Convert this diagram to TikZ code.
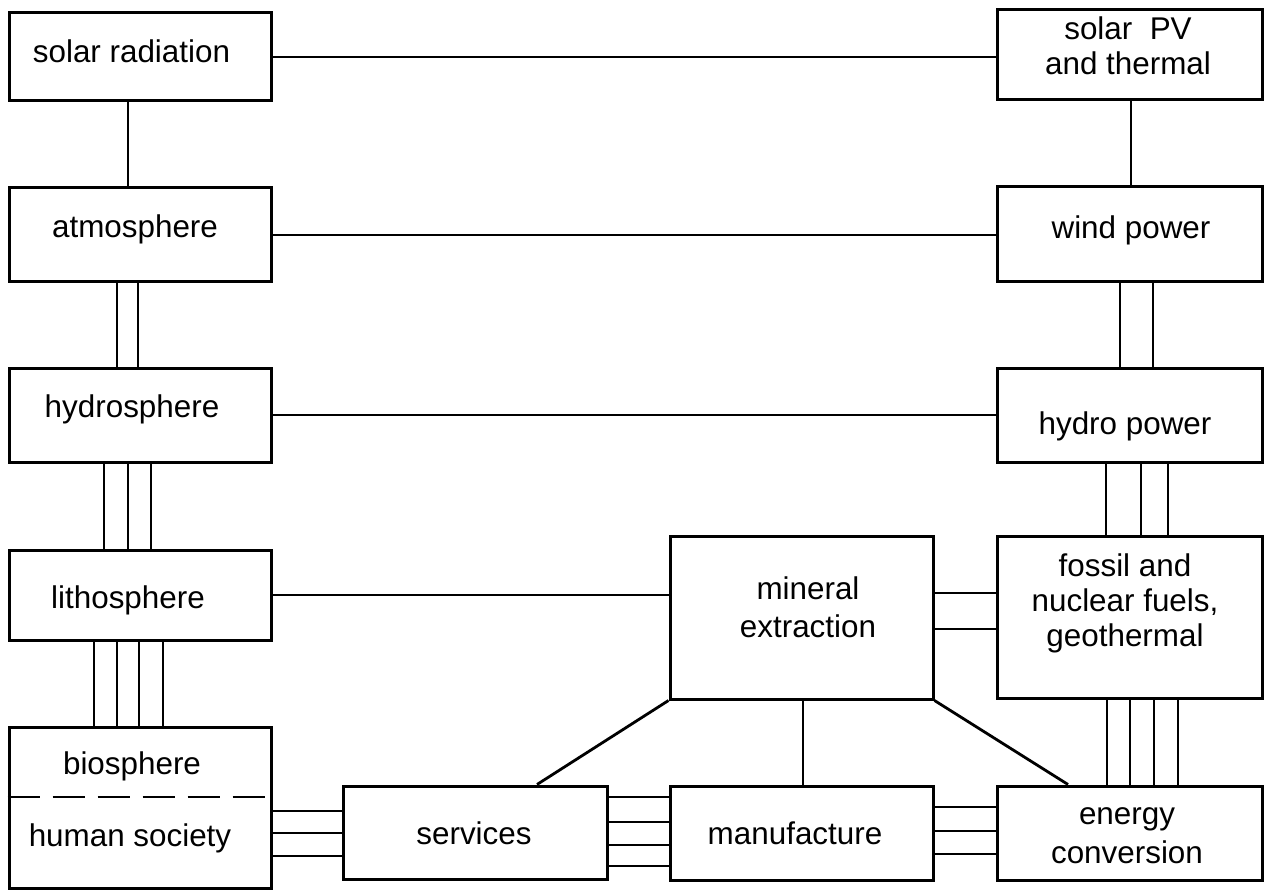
\documentclass[tikz,border=0pt]{standalone}
\usepackage{fontspec}
\setmainfont{Liberation Sans}
\begin{document}
\begin{tikzpicture}[x=1pt,y=-1pt,
  box/.style={draw, line width=3pt, inner sep=0pt, outer sep=1.5pt},
  conn/.style={line width=2.8pt},
  lbl/.style={font=\fontsize{31.4pt}{36pt}\selectfont, inner sep=0pt, align=center, anchor=base}]
\useasboundingbox (0,0) rectangle (1271,890);
% boxes
\node[box, minimum width=262pt, minimum height=88pt] (sr) at (140,57) {};
\node[box, minimum width=265pt, minimum height=90pt] (pv) at (1129.5,55) {};
\node[box, minimum width=262pt, minimum height=94pt] (atm) at (140,235) {};
\node[box, minimum width=265pt, minimum height=95pt] (wind) at (1129.5,234.5) {};
\node[box, minimum width=262pt, minimum height=94pt] (hyd) at (140,415) {};
\node[box, minimum width=265pt, minimum height=94pt] (hp) at (1129.5,415) {};
\node[box, minimum width=262pt, minimum height=90pt] (lith) at (140,595) {};
\node[box, minimum width=263pt, minimum height=163pt] (min) at (801.5,617.5) {};
\node[box, minimum width=265pt, minimum height=162pt] (foss) at (1129.5,617) {};
\node[box, minimum width=262pt, minimum height=161pt] (bio) at (140,807.5) {};
\node[box, minimum width=264pt, minimum height=93pt] (serv) at (475,832.5) {};
\node[box, minimum width=263pt, minimum height=94pt] (manu) at (801.5,833) {};
\node[box, minimum width=265pt, minimum height=94pt] (ener) at (1129.5,833) {};
% texts (anchor=base: baseline of the last line)
\node[lbl] (sr-t) at (131.5,63) {solar radiation};
\node[lbl, font=\fontsize{31.4pt}{35pt}\selectfont] (pv-t) at (1128,75) {solar~ PV\\and thermal};
\node[lbl] (atm-t) at (135,238) {atmosphere};
\node[lbl] (wind-t) at (1131,239) {wind power};
\node[lbl] (hyd-t) at (132,417) {hydrosphere};
\node[lbl] (hp-t) at (1125,434) {hydro power};
\node[lbl] (lith-t) at (128,608) {lithosphere};
\node[lbl, font=\fontsize{31.4pt}{38pt}\selectfont] (min-t) at (808,637) {mineral\\extraction};
\node[lbl, font=\fontsize{31.4pt}{35pt}\selectfont] (foss-t) at (1125,646) {fossil and\\nuclear fuels,\\geothermal};
\node[lbl] (bio-t) at (132,774) {biosphere};
\node[lbl] (hs-t) at (130,846) {human society};
\node[lbl] (serv-t) at (474,844) {services};
\node[lbl] (manu-t) at (795,844) {manufacture};
\node[lbl, font=\fontsize{31.4pt}{39pt}\selectfont] (ener-t) at (1127,863) {energy\\conversion};
% dashed divider in biosphere / human society box
\draw[line width=2.8pt, dash pattern=on 32pt off 13pt] ([yshift=10.5pt]bio.west) -- ([yshift=10.5pt,xshift=-5pt]bio.east);
% single connectors
\draw[conn] (sr.east) -- (sr.east -| pv.west);
\draw[conn] ([xshift=-12pt]sr.south) -- ([xshift=-12pt]sr.south |- atm.north);
\draw[conn] ([xshift=1.5pt]pv.south) -- ([xshift=1.5pt]pv.south |- wind.north);
\draw[conn] (atm.east) -- (atm.east -| wind.west);
\draw[conn] (hyd.east) -- (hyd.east -| hp.west);
\draw[conn] (lith.east) -- (lith.east -| min.west);
\draw[conn] (min.south west) -- ([xshift=62pt]serv.north);
\draw[conn] ([xshift=1.5pt]min.south) -- ([xshift=1.5pt]min.south |- manu.north);
\draw[conn] (min.south east) -- ([xshift=-61.5pt]ener.north);
% multiple vertical connectors
\foreach \s in {-23,-2}
  \draw[conn] ([xshift=\s pt]atm.south) -- ([xshift=\s pt]atm.south |- hyd.north);
\foreach \s in {-9.5,23.5}
  \draw[conn] ([xshift=\s pt]wind.south) -- ([xshift=\s pt]wind.south |- hp.north);
\foreach \s in {-36,-12,11}
  \draw[conn] ([xshift=\s pt]hyd.south) -- ([xshift=\s pt]hyd.south |- lith.north);
\foreach \s in {-23.5,11.5,38.5}
  \draw[conn] ([xshift=\s pt]hp.south) -- ([xshift=\s pt]hp.south |- foss.north);
\foreach \s in {-46,-23,-1,23}
  \draw[conn] ([xshift=\s pt]lith.south) -- ([xshift=\s pt]lith.south |- bio.north);
\foreach \s in {-22.5,0.5,24.5,48.5}
  \draw[conn] ([xshift=\s pt]foss.south) -- ([xshift=\s pt]foss.south |- ener.north);
% multiple horizontal connectors
\foreach \s in {24.5,-11.5}
  \draw[conn] ([yshift=\s pt]min.east) -- ([yshift=\s pt]min.east -| foss.west);
\foreach \s in {21.5,-0.5,-23.5}
  \draw[conn] ([yshift=\s pt]serv.west -| bio.east) -- ([yshift=\s pt]serv.west);
\foreach \s in {35.5,10.5,-12.5,-33.5}
  \draw[conn] ([yshift=\s pt]serv.east) -- ([yshift=\s pt]serv.east -| manu.west);
\foreach \s in {26,2,-21}
  \draw[conn] ([yshift=\s pt]manu.east) -- ([yshift=\s pt]manu.east -| ener.west);
\end{tikzpicture}
\end{document}
